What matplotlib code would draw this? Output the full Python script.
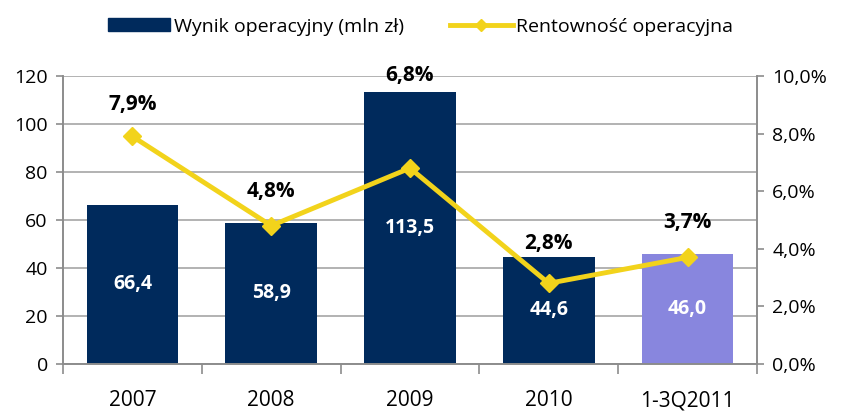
import matplotlib
matplotlib.use("Agg")
import matplotlib.pyplot as plt
from matplotlib.lines import Line2D
from matplotlib.patches import Patch
import numpy as np

# dane
lata = ["2007", "2008", "2009", "2010", "1-3Q2011"]
wynik = [66.4, 58.9, 113.5, 44.6, 46.0]
rentownosc = [7.9, 4.8, 6.8, 2.8, 3.7]
wynik_txt = ["66,4", "58,9", "113,5", "44,6", "46,0"]
rent_txt = ["7,9%", "4,8%", "6,8%", "2,8%", "3,7%"]

GRANAT = "#002a5c"
FIOLET = "#8886de"
ZOLTY = "#f2d31b"
SZARY = "#8c8c8c"

plt.rcParams['font.family'] = ['Open Sans', 'DejaVu Sans']

fig = plt.figure(figsize=(8.41, 4.15), dpi=100)
ax = fig.add_axes([0.075, 0.123, 0.825, 0.694])
ax2 = ax.twinx()

x = np.arange(len(lata))
kolory = [GRANAT] * 4 + [FIOLET]
bary = ax.bar(x, wynik, width=0.66, color=kolory, zorder=2)
for b, t in zip(bary, wynik_txt):
    ax.text(b.get_x() + b.get_width() / 2, b.get_height() / 2, t,
            ha='center', va='center', color='white', fontsize=14, fontweight='bold', zorder=3)

ax.set_xlim(-0.5, len(lata) - 0.5)
ax.set_ylim(0, 120)
ax.set_yticks(range(0, 121, 20))
ax.grid(axis='y', color='#a6a6a6', linewidth=1.2, zorder=0)
ax.set_axisbelow(True)
ax.set_xticks(x)
ax.set_xticklabels(lata, fontsize=15)
ax.set_xticks(np.arange(-0.5, len(lata), 1), minor=True)
ax.tick_params(axis='x', which='major', length=0, pad=19)
ax.tick_params(axis='x', which='minor', length=7, color=SZARY, width=1.2)
ax.tick_params(axis='y', labelsize=14, length=5, color=SZARY, width=1.2, pad=6)

ax2.plot(x, rentownosc, color=ZOLTY, linewidth=3.5, marker='D', markersize=9, zorder=4)
ax2.set_ylim(0, 10)
ax2.set_yticks(np.arange(0, 10.1, 2))
ax2.set_yticklabels([f"{v:.1f}%".replace('.', ',') for v in np.arange(0, 10.1, 2)])
ax2.tick_params(axis='y', labelsize=14, length=5, color=SZARY, width=1.2, pad=6)

# przesunięcia etykiet procentowych (jak ręcznie ustawione w Excelu)
przesun = [15.5, 17, 59, 21, 17.5]
for xi, v, t, d in zip(x, rentownosc, rent_txt, przesun):
    ax2.annotate(t, (xi, v), xytext=(0, d), textcoords='offset points',
                 ha='center', va='bottom', fontsize=15, fontweight='bold', color='black')

for a in (ax, ax2):
    for s in a.spines.values():
        s.set_color(SZARY)
        s.set_linewidth(1.2)
    a.spines['top'].set_visible(False)

uchwyty = [Patch(color=GRANAT),
           Line2D([0], [0], color=ZOLTY, linewidth=3.5, marker='D', markersize=6)]
fig.legend(uchwyty, ["Wynik operacyjny (mln zł)", "Rentowność operacyjna"],
           loc='upper center', bbox_to_anchor=(0.5, 1.0), ncol=2, frameon=False,
           fontsize=14, handlelength=3.2, handletextpad=0.2, columnspacing=2.4)

fig.savefig("out.png", dpi=100)
